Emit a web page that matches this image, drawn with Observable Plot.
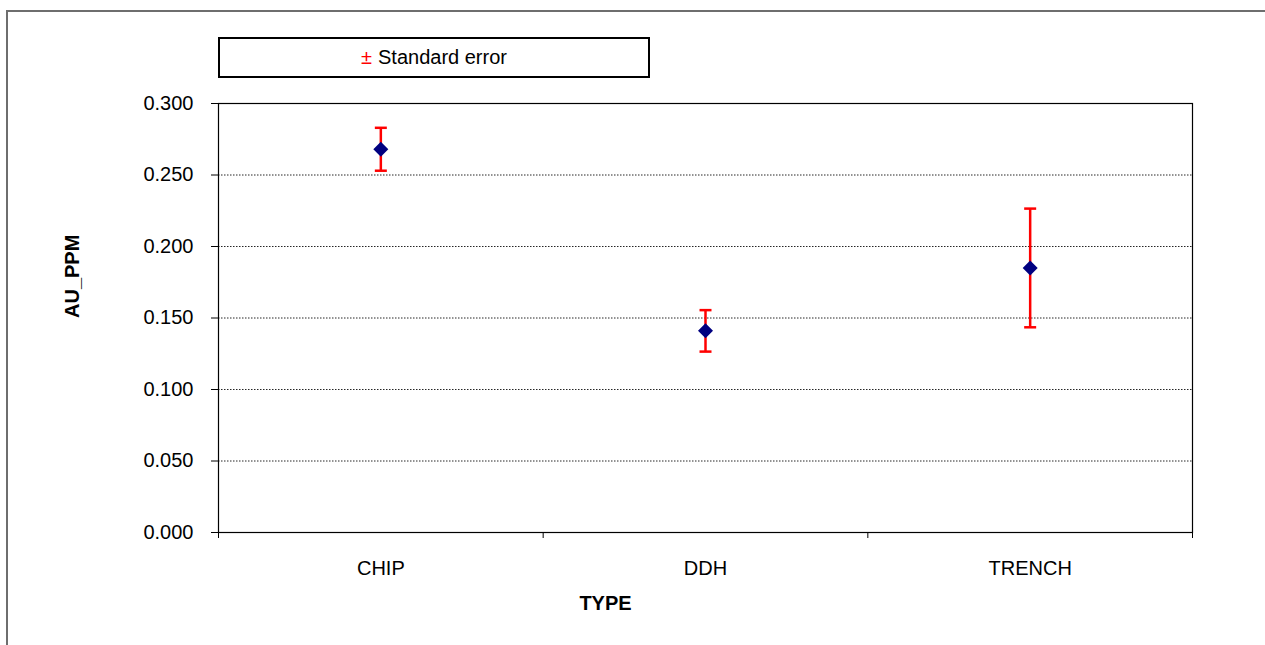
<!DOCTYPE html>
<html>
<head>
<meta charset="utf-8">
<script src="https://cdn.jsdelivr.net/npm/d3@7"></script>
<script src="https://cdn.jsdelivr.net/npm/@observablehq/plot@0.6"></script>
<style>
  html, body { margin: 0; padding: 0; background: #fff; }
  #wrap { position: relative; width: 1265px; height: 645px; overflow: hidden; font-family: "Liberation Sans", Arial, sans-serif; }
  #outer { position: absolute; left: 6px; top: 10px; width: 1400px; height: 800px; border-left: 2px solid #6e6e6e; border-top: 2px solid #6e6e6e; box-sizing: border-box; }
  #legend { position: absolute; left: 218px; top: 37px; width: 432px; height: 41px; border: 2px solid #000; box-sizing: border-box; background: #fff; display: flex; align-items: center; justify-content: center; font-size: 20px; color: #000; }
  #legend .pm { color: #ff0000; margin-right: 6px; }
  #chart { position: absolute; left: 0; top: 0; }
</style>
</head>
<body>
<div id="wrap">
  <div id="outer"></div>
  <div id="chart"></div>
  <div id="legend"><span class="pm">±</span><span>Standard error</span></div>
</div>
<script>
const categories = ["CHIP", "DDH", "TRENCH"];
const means = [0.268, 0.141, 0.185];
const stdErrors = [0.015, 0.0145, 0.0415];
const yTicks = [0, 0.05, 0.10, 0.15, 0.20, 0.25, 0.30];
const yLabel = "AU_PPM";
const xLabel = "TYPE";

const rows = categories.map((c, i) => ({
  cat: c,
  pos: i + 0.5,
  mean: means[i],
  lo: means[i] - stdErrors[i],
  hi: means[i] + stdErrors[i]
}));

const capSymbol = {
  draw(ctx) { ctx.moveTo(-6, 0); ctx.lineTo(6, 0); }
};
const diamondSymbol = {
  draw(ctx) { ctx.moveTo(0, -7.5); ctx.lineTo(7.5, 0); ctx.lineTo(0, 7.5); ctx.lineTo(-7.5, 0); ctx.closePath(); }
};

const chart = Plot.plot({
  width: 1265,
  height: 645,
  marginLeft: 218,
  marginRight: 73,
  marginTop: 103,
  marginBottom: 113,
  style: { fontFamily: "'Liberation Sans', Arial, sans-serif", background: "transparent", color: "#000" },
  x: { type: "linear", domain: [0, categories.length] },
  y: { domain: [0, 0.3] },
  marks: [
    Plot.gridY(yTicks, { stroke: "#000", strokeOpacity: 0.85, strokeDasharray: "1.5,1.5", strokeWidth: 1 }),
    Plot.frame({ stroke: "#000", strokeWidth: 1.2 }),
    Plot.axisY(yTicks, { tickFormat: d3.format(".3f"), tickSize: 7, tickPadding: 18, fontSize: 20, label: null, stroke: "#000" }),
    Plot.axisX(d3.range(categories.length + 1), { tickFormat: () => "", tickSize: 6, label: null, stroke: "#000" }),
    Plot.axisX(rows.map(d => d.pos), { tickSize: 0, tickPadding: 28, tickFormat: d => categories[Math.floor(d)], fontSize: 20, label: null }),
    Plot.text([yLabel], { frameAnchor: "left", dx: -146, rotate: -90, fontWeight: "bold", fontSize: 20 }),
    Plot.text([xLabel], { frameAnchor: "bottom", dx: -100, dy: 77, fontWeight: "bold", fontSize: 20 }),
    Plot.ruleX(rows, { x: "pos", y1: "lo", y2: "hi", stroke: "#ff0000", strokeWidth: 2.5 }),
    Plot.dot(rows, { x: "pos", y: "hi", symbol: capSymbol, stroke: "#ff0000", strokeWidth: 2.5 }),
    Plot.dot(rows, { x: "pos", y: "lo", symbol: capSymbol, stroke: "#ff0000", strokeWidth: 2.5 }),
    Plot.dot(rows, { x: "pos", y: "mean", symbol: diamondSymbol, fill: "#000080", stroke: "none" })
  ]
});
document.getElementById("chart").appendChild(chart);
</script>
</body>
</html>
